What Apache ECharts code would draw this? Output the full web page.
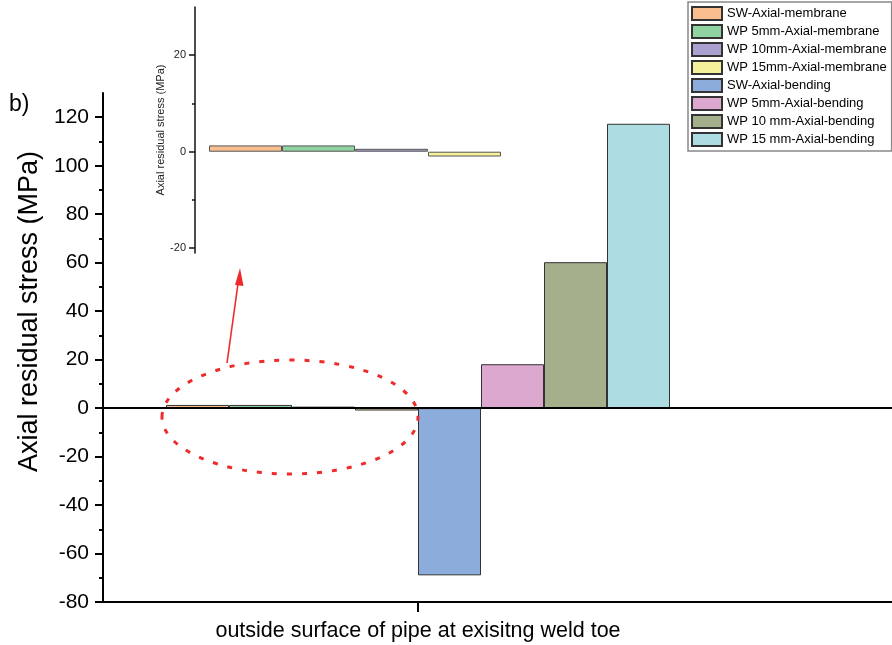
<!DOCTYPE html>
<html>
<head>
<meta charset="utf-8">
<script src="https://cdn.jsdelivr.net/npm/echarts@6/dist/echarts.min.js"></script>
<style>
html,body{margin:0;padding:0;background:#fff;}
#chart{width:892px;height:645px;}
</style>
</head>
<body>
<div id="chart"></div>
<script>
// ---- data ----
const categories = ['outside surface of pipe at exisitng weld toe'];
const seriesNames = [
  'SW-Axial-membrane', 'WP 5mm-Axial-membrane', 'WP 10mm-Axial-membrane', 'WP 15mm-Axial-membrane',
  'SW-Axial-bending', 'WP 5mm-Axial-bending', 'WP 10 mm-Axial-bending', 'WP 15 mm-Axial-bending'
];
const seriesValues = [1.3, 1.3, 0.6, -1.0, -69.0, 18.1, 60.2, 117.3];
const seriesColors = ['#FBBE8E', '#8FD3A0', '#ABA0CF', '#F5F09A', '#8CADDC', '#DDA8CF', '#A4AF8B', '#ADDDE2'];
const insetCount = 4; // membrane series shown in the inset
const mainTickLabels = [-80, -60, -40, -20, 0, 20, 40, 60, 80, 100, 120];
const mainMinorTicks = [-70, -50, -30, -10, 10, 30, 50, 70, 90, 110];
const insetTickLabels = [-20, 0, 20];
const insetMinorTicks = [-10, 10];

const FONT = 'Liberation Sans, Arial, sans-serif';
const chart = echarts.init(document.getElementById('chart'));

const series = [];
seriesNames.forEach((name, i) => {
  const s = {
    name: name, type: 'bar', xAxisIndex: 0, yAxisIndex: 0,
    data: [seriesValues[i]],
    barGap: '0%', barCategoryGap: '20%',
    itemStyle: { color: seriesColors[i], borderColor: '#333', borderWidth: 1 },
    emphasis: { disabled: true }
  };
  if (i === 0) {
    s.markLine = {
      silent: true, symbol: ['none', 'none'], label: { show: false },
      lineStyle: { color: '#000', width: 2, type: 'solid' },
      data: [{ yAxis: 0 }]
    };
  }
  series.push(s);
});
for (let i = 0; i < insetCount; i++) {
  series.push({
    name: seriesNames[i], type: 'bar', xAxisIndex: 1, yAxisIndex: 2,
    data: [seriesValues[i]],
    barGap: '0%', barWidth: 73,
    itemStyle: { color: seriesColors[i], borderColor: '#555', borderWidth: 1 },
    emphasis: { disabled: true }
  });
}

const option = {
  animation: false,
  textStyle: { fontFamily: FONT, color: '#000' },
  title: { text: 'b)', left: 4, top: 88, textStyle: { fontSize: 23, fontWeight: 'normal', color: '#000', fontFamily: FONT } },
  legend: {
    data: seriesNames, orient: 'vertical', left: 688, top: 2,
    icon: 'rect',
    itemWidth: 30, itemHeight: 13, itemGap: 3,
    padding: [4, 5, 4, 3],
    borderColor: '#888', borderWidth: 1.5,
    textStyle: { fontSize: 13, color: '#000', fontFamily: FONT },
    selectedMode: false
  },
  grid: [
    { left: 103, top: 93, right: 159, bottom: 43 },
    { left: 195, top: 7, width: 320, height: 246 }
  ],
  xAxis: [
    {
      type: 'category', gridIndex: 0, data: categories, position: 'bottom',
      axisLine: { onZero: false, lineStyle: { color: '#000', width: 2 } },
      axisTick: { show: true, interval: 0, alignWithLabel: true, length: 10, lineStyle: { color: '#000', width: 2 } },
      axisLabel: { fontSize: 21.5, margin: 18, color: '#000' },
      splitLine: { show: false }
    },
    {
      type: 'category', gridIndex: 1, data: categories,
      axisLine: { show: false }, axisTick: { show: false }, axisLabel: { show: false }, splitLine: { show: false }
    }
  ],
  yAxis: [
    {
      type: 'value', gridIndex: 0, min: -80, max: 130, position: 'left',
      name: 'Axial residual stress (MPa)', nameLocation: 'middle', nameGap: 55,
      nameTextStyle: { fontSize: 27, color: '#000', padding: [0, 0, 0, 72] },
      axisLine: { show: true, lineStyle: { color: '#000', width: 2 } },
      axisTick: { show: true, customValues: mainTickLabels, length: 8, lineStyle: { color: '#000', width: 2 } },
      axisLabel: { customValues: mainTickLabels, fontSize: 21, margin: 14, color: '#000' },
      splitLine: { show: false }
    },
    {
      type: 'value', gridIndex: 0, min: -80, max: 130, position: 'left', offset: 0,
      axisLine: { show: false },
      axisTick: { show: true, customValues: mainMinorTicks, length: 4, lineStyle: { color: '#000', width: 2 } },
      axisLabel: { show: false }, splitLine: { show: false }
    },
    {
      type: 'value', gridIndex: 1, min: -21, max: 30, position: 'left',
      name: 'Axial residual stress (MPa)', nameLocation: 'middle', nameGap: 27,
      nameTextStyle: { fontSize: 11, color: '#222' },
      axisLine: { show: true, lineStyle: { color: '#111', width: 1.5 } },
      axisTick: { show: true, customValues: insetTickLabels, length: 6, lineStyle: { color: '#111', width: 1.5 } },
      axisLabel: { customValues: insetTickLabels, fontSize: 11, margin: 9, color: '#222' },
      splitLine: { show: false }
    },
    {
      type: 'value', gridIndex: 1, min: -21, max: 30, position: 'left', offset: 0,
      axisLine: { show: false },
      axisTick: { show: true, customValues: insetMinorTicks, length: 3, lineStyle: { color: '#111', width: 1.5 } },
      axisLabel: { show: false }, splitLine: { show: false }
    }
  ],
  series: series
};
chart.setOption(option);

// Extend the horizontal axis lines to the right edge and add the annotation
const W = chart.getWidth();
const gridRight = 892 - 159;
const y0 = chart.convertToPixel({ yAxisIndex: 0 }, 0);
const yMin = chart.convertToPixel({ yAxisIndex: 0 }, -80);
const xCat = chart.convertToPixel({ xAxisIndex: 0 }, categories[0]);
const red = '#EE2B2B';
chart.setOption({
  graphic: [
    { type: 'line', z: 50, shape: { x1: gridRight - 1, y1: y0, x2: W, y2: y0 }, style: { stroke: '#000', lineWidth: 2 } },
    { type: 'line', z: 50, shape: { x1: gridRight - 1, y1: yMin, x2: W, y2: yMin }, style: { stroke: '#000', lineWidth: 2 } },
    { type: 'line', z: 50, shape: { x1: xCat, y1: yMin, x2: xCat, y2: yMin + 10 }, style: { stroke: '#000', lineWidth: 2 } },
    { type: 'ellipse', z: 60, shape: { cx: 290, cy: 417, rx: 128, ry: 57 },
      style: { fill: null, stroke: red, lineWidth: 3, lineDash: [5, 10] } },
    { type: 'line', z: 60, shape: { x1: 227, y1: 363, x2: 238.5, y2: 280 }, style: { stroke: red, lineWidth: 1.6 } },
    { type: 'polygon', z: 60, shape: { points: [[240, 268], [235, 285], [243.5, 286]] }, style: { fill: red } }
  ]
});
</script>
</body>
</html>
